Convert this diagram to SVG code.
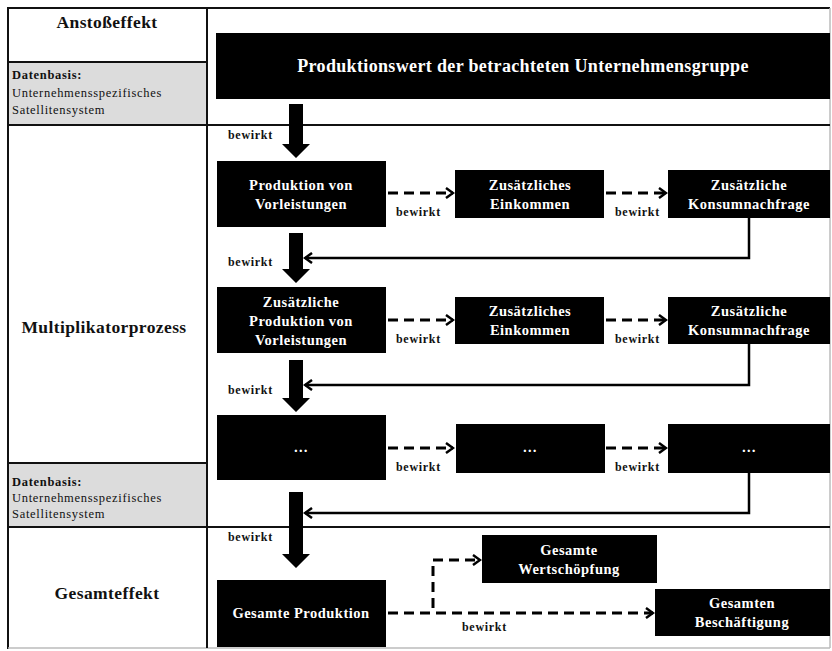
<svg xmlns="http://www.w3.org/2000/svg" width="832" height="651" viewBox="0 0 832 651">
<style>
.box{fill:#000}
.bt{font-family:"Liberation Serif",serif;font-weight:bold;font-size:14.5px;letter-spacing:0.5px;fill:#fff;text-anchor:middle}
.ht{font-family:"Liberation Serif",serif;font-weight:bold;font-size:18px;letter-spacing:0.35px;fill:#fff;text-anchor:middle}
.lt{font-family:"Liberation Serif",serif;font-weight:bold;font-size:17.5px;letter-spacing:0.4px;fill:#111;text-anchor:middle}
.db{font-family:"Liberation Serif",serif;font-size:12.5px;letter-spacing:0.7px;fill:#111}
.dbb{font-weight:bold}
.lbl{font-family:"Liberation Serif",serif;font-weight:bold;font-size:12px;letter-spacing:0.7px;fill:#111}
.frame{stroke:#111;stroke-width:2;fill:none}
.dash{stroke:#000;stroke-width:3;stroke-dasharray:10 6;fill:none}
.ret{stroke:#000;stroke-width:2.5;fill:none}
.thick{fill:#000}
</style>
<defs>
<marker id="chev" markerWidth="10" markerHeight="12" refX="8" refY="6" orient="auto" markerUnits="userSpaceOnUse">
<path d="M1,1 L8,6 L1,11" fill="none" stroke="#000" stroke-width="2.5"/>
</marker>
</defs>
<rect x="0" y="0" width="832" height="651" fill="#fff"/>
<g id="frame">
<rect x="8" y="62" width="199" height="63" fill="#dcdcdc"/>
<rect x="8" y="463" width="199" height="64" fill="#dcdcdc"/>
<line x1="8" y1="8" x2="830" y2="8" class="frame"/>
<line x1="8" y1="7" x2="8" y2="649" class="frame"/>
<line x1="830" y1="8" x2="830" y2="648" stroke="#bbb" stroke-width="1.5"/>
<line x1="8" y1="648" x2="830" y2="648" stroke="#bbb" stroke-width="1.5"/>
<line x1="207" y1="8" x2="207" y2="648" class="frame"/>
<line x1="8" y1="125" x2="830" y2="125" class="frame"/>
<line x1="8" y1="527" x2="830" y2="527" class="frame"/>
<line x1="8" y1="62" x2="207" y2="62" class="frame"/>
<line x1="8" y1="463" x2="207" y2="463" class="frame"/>
</g>
<g id="left-labels">
<text x="107" y="28" class="lt">Anstoßeffekt</text>
<text x="12" y="79" class="db dbb">Datenbasis:</text>
<text x="12" y="97" class="db">Unternehmensspezifisches</text>
<text x="12" y="114" class="db">Satellitensystem</text>
<text x="104" y="333" class="lt">Multiplikatorprozess</text>
<text x="12" y="486" class="db dbb">Datenbasis:</text>
<text x="12" y="502" class="db">Unternehmensspezifisches</text>
<text x="12" y="518" class="db">Satellitensystem</text>
<text x="107" y="599" class="lt">Gesamteffekt</text>
</g>
<g id="connectors">
<polygon class="thick" points="289,104 303,104 303,144 310,144 296,158 282,144 289,144"/>
<polygon class="thick" points="289,233 303,233 303,269 310,269 296,283 282,269 289,269"/>
<polygon class="thick" points="289,360 303,360 303,398 310,398 296,412 282,398 289,398"/>
<polygon class="thick" points="289,492 303,492 303,554 310,554 296,568 282,554 289,554"/>
<line x1="388" y1="193" x2="453" y2="193" class="dash" marker-end="url(#chev)"/>
<line x1="606" y1="193" x2="666" y2="193" class="dash" marker-end="url(#chev)"/>
<line x1="388" y1="320" x2="453" y2="320" class="dash" marker-end="url(#chev)"/>
<line x1="606" y1="320" x2="666" y2="320" class="dash" marker-end="url(#chev)"/>
<line x1="388" y1="448" x2="453" y2="448" class="dash" marker-end="url(#chev)"/>
<line x1="606" y1="448" x2="666" y2="448" class="dash" marker-end="url(#chev)"/>
<polyline points="749,218 749,258 305,258" class="ret" marker-end="url(#chev)"/>
<polyline points="749,344 749,385 305,385" class="ret" marker-end="url(#chev)"/>
<polyline points="749,473 749,513 305,513" class="ret" marker-end="url(#chev)"/>
<line x1="388" y1="613" x2="653" y2="613" class="dash" marker-end="url(#chev)"/>
<polyline points="433,608 433,560 480,560" class="dash" marker-end="url(#chev)"/>
<text x="228" y="139" class="lbl">bewirkt</text>
<text x="228" y="266" class="lbl">bewirkt</text>
<text x="228" y="394" class="lbl">bewirkt</text>
<text x="228" y="541" class="lbl">bewirkt</text>
<text x="396" y="216" class="lbl">bewirkt</text>
<text x="615" y="216" class="lbl">bewirkt</text>
<text x="396" y="343" class="lbl">bewirkt</text>
<text x="615" y="343" class="lbl">bewirkt</text>
<text x="396" y="471" class="lbl">bewirkt</text>
<text x="615" y="471" class="lbl">bewirkt</text>
<text x="462" y="631" class="lbl">bewirkt</text>
</g>
<g id="n-produktionswert">
<rect x="216" y="33" width="614" height="66" class="box"/>
<text x="523" y="72" class="ht">Produktionswert der betrachteten Unternehmensgruppe</text>
</g>
<g id="n-vorleistungen">
<rect x="217" y="161" width="169" height="66" class="box"/>
<text x="301" y="190" class="bt">Produktion von</text>
<text x="301" y="209" class="bt">Vorleistungen</text>
</g>
<g id="n-einkommen1">
<rect x="455" y="170" width="149" height="48" class="box"/>
<text x="530" y="190" class="bt">Zusätzliches</text>
<text x="530" y="209" class="bt">Einkommen</text>
</g>
<g id="n-konsum1">
<rect x="668" y="170" width="162" height="48" class="box"/>
<text x="749" y="190" class="bt">Zusätzliche</text>
<text x="749" y="209" class="bt">Konsumnachfrage</text>
</g>
<g id="n-vorleistungen2">
<rect x="217" y="287" width="169" height="66" class="box"/>
<text x="301" y="307" class="bt">Zusätzliche</text>
<text x="301" y="326" class="bt">Produktion von</text>
<text x="301" y="345" class="bt">Vorleistungen</text>
</g>
<g id="n-einkommen2">
<rect x="455" y="297" width="149" height="47" class="box"/>
<text x="530" y="316" class="bt">Zusätzliches</text>
<text x="530" y="335" class="bt">Einkommen</text>
</g>
<g id="n-konsum2">
<rect x="668" y="297" width="162" height="47" class="box"/>
<text x="749" y="316" class="bt">Zusätzliche</text>
<text x="749" y="335" class="bt">Konsumnachfrage</text>
</g>
<g id="n-dots1">
<rect x="217" y="415" width="169" height="65" class="box"/>
<text x="301" y="452" class="bt">…</text>
</g>
<g id="n-dots2">
<rect x="456" y="424" width="149" height="49" class="box"/>
<text x="530" y="452" class="bt">…</text>
</g>
<g id="n-dots3">
<rect x="668" y="424" width="162" height="49" class="box"/>
<text x="749" y="452" class="bt">…</text>
</g>
<g id="n-gesamtproduktion">
<rect x="217" y="580" width="169" height="67" class="box"/>
<text x="301" y="618" class="bt">Gesamte Produktion</text>
</g>
<g id="n-wertschoepfung">
<rect x="482" y="535" width="175" height="48" class="box"/>
<text x="569" y="555" class="bt">Gesamte</text>
<text x="569" y="574" class="bt">Wertschöpfung</text>
</g>
<g id="n-beschaeftigung">
<rect x="655" y="589" width="175" height="47" class="box"/>
<text x="742" y="608" class="bt">Gesamten</text>
<text x="742" y="627" class="bt">Beschäftigung</text>
</g>
</svg>
